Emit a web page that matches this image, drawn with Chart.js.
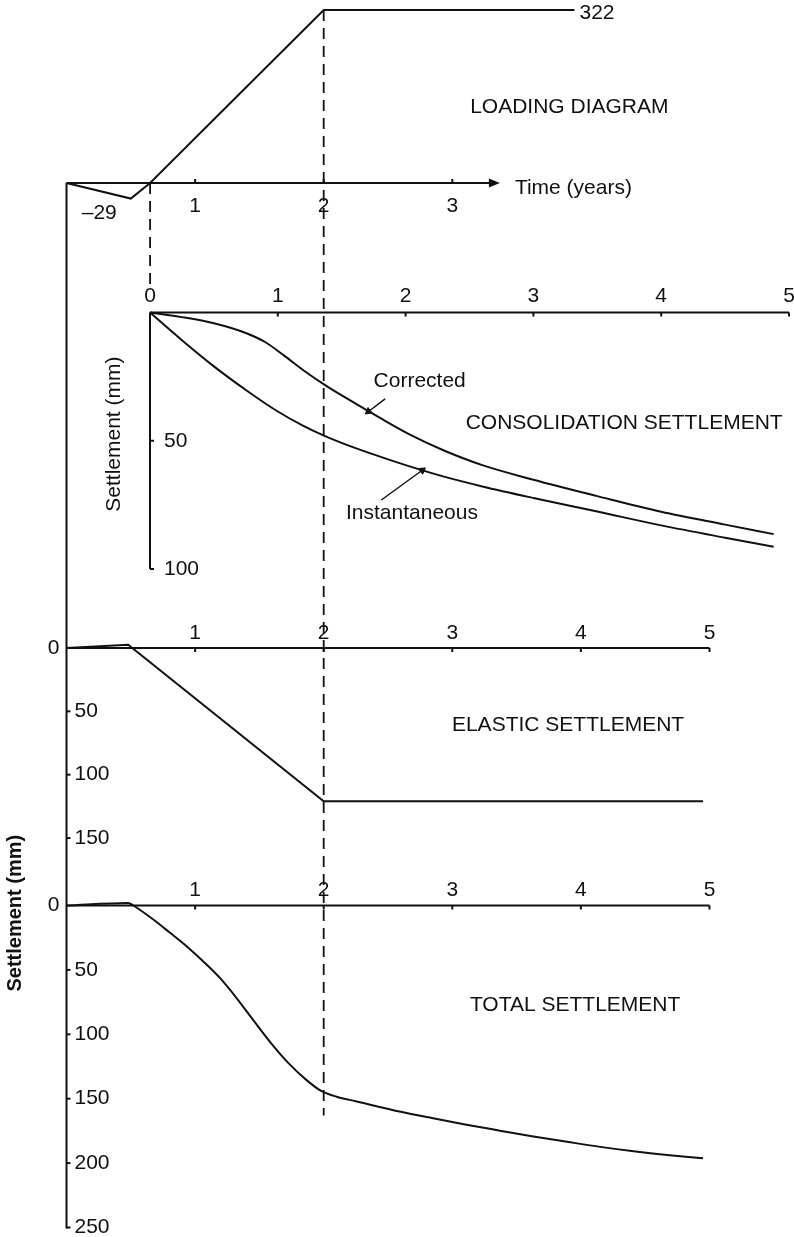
<!DOCTYPE html>
<html>
<head>
<meta charset="utf-8">
<title>Loading and settlement against time</title>
<script src="https://cdn.jsdelivr.net/npm/chart.js@4.4.1/dist/chart.umd.min.js"></script>
<style>
  html, body { margin: 0; padding: 0; background: #fff; }
  canvas { display: block; }
</style>
</head>
<body>
<canvas id="settlement-chart" width="794" height="1237"></canvas>
<script>
/* Loading diagram + consolidation / elastic / total settlement,
   four panels sharing one canvas, each on its own pair of scales. */

// loading history against time (years)
const loadTime = [0, 0.5, 0.65, 2, 3.95];
const loadValue = [0, -29, 0, 322, 322];

// consolidation settlement (mm), time counted from start of loading
const corrTime = [0, 0.25, 0.5, 0.75, 0.9, 1.05, 1.2, 1.37, 1.55, 1.8, 2.05, 2.3, 2.6, 3.0, 3.5, 4.0, 4.5, 4.88];
const corrSettlement = [0, 1.8, 4.2, 8, 11.5, 16.8, 22.5, 28.3, 33.8, 41.1, 48, 53.8, 59.5, 65.2, 71.6, 77.7, 82.7, 86.4];
const instTime = [0, 0.25, 0.5, 0.75, 1.0, 1.2, 1.37, 1.55, 1.8, 2.05, 2.3, 2.6, 3.0, 3.5, 4.0, 4.5, 4.88];
const instSettlement = [0, 10.8, 21, 30.2, 38.6, 44.2, 48.2, 51.8, 56.2, 60.3, 64, 67.8, 72.3, 77.6, 83, 87.8, 91.3];

// elastic settlement (mm)
const elasticTime = [0, 0.48, 2, 4.95];
const elasticSettlement = [0, -2.5, 121, 121];

// total settlement (mm)
const totalTime = [0, 0.48, 0.52, 0.68, 0.8, 0.94, 1.07, 1.2, 1.33, 1.46, 1.59, 1.73, 1.86, 1.98, 2.1, 2.25, 2.6, 2.85, 3.11, 3.37, 3.63, 3.89, 4.15, 4.41, 4.67, 4.95];
const totalSettlement = [0, -2, 0, 11.3, 20.8, 32.2, 44, 57, 72.8, 90, 106.8, 122.8, 135, 144, 148.5, 152, 160.2, 165.2, 170.2, 174.8, 179.3, 183.4, 187.4, 190.8, 193.7, 196.3];

// leader lines from the curve labels (time, settlement)
const corrLeaderTime = [1.84, 1.71];
const corrLeaderSettlement = [33.7, 38.6];
const instLeaderTime = [1.81, 2.13];
const instLeaderSettlement = [73.1, 61.5];

// axis ticks
const loadTicks = [1, 2, 3];
const timeTicks = [1, 2, 3, 4, 5];
const consTimeTicks = [0, 1, 2, 3, 4, 5];
const consTicks = [50, 100];
const elasticTicks = [0, 50, 100, 150];
const totalTicks = [0, 50, 100, 150, 200, 250];

const W = 794, H = 1237;
const INK = '#111';
const FONT = '"Liberation Sans", Arial, sans-serif';

// pixel origin and pixels per unit for each scale
const geom = {
  xT: { origin: 66.5, unit: 128.6 },
  xC: { origin: 150, unit: 127.8 },
  yL: { origin: 183, unit: 173 / 322, up: true },
  yC: { origin: 312.5, unit: 2.565 },
  yE: { origin: 648, unit: 1.267 },
  yT: { origin: 905.5, unit: 1.288 }
};

function scaleFor(id) {
  const g = geom[id];
  const isX = id[0] === 'x';
  const size = isX ? W : H;
  const base = { type: 'linear', axis: isX ? 'x' : 'y', display: false };
  if (isX) return { ...base, min: -g.origin / g.unit, max: (size - g.origin) / g.unit };
  if (g.up) return { ...base, min: -(size - g.origin) / g.unit, max: g.origin / g.unit };
  return { ...base, reverse: true, min: -g.origin / g.unit, max: (size - g.origin) / g.unit };
}

const pts = (xs, ys) => xs.map((x, i) => ({ x, y: ys[i] }));

function arrowRotation(c) {
  const ds = c.chart.data.datasets[c.datasetIndex];
  const xs = c.chart.scales[ds.xAxisID], ys = c.chart.scales[ds.yAxisID];
  const [a, b] = ds.data;
  const dx = xs.getPixelForValue(b.x) - xs.getPixelForValue(a.x);
  const dy = ys.getPixelForValue(b.y) - ys.getPixelForValue(a.y);
  return Math.atan2(dx, -dy) * 180 / Math.PI;
}

function curve(data, xAxisID, yAxisID, smooth) {
  return {
    data, xAxisID, yAxisID,
    borderColor: INK, borderWidth: 2, pointRadius: 0,
    tension: 0, cubicInterpolationMode: smooth ? 'monotone' : 'default',
    clip: false
  };
}

function leader(data) {
  return {
    data, xAxisID: 'xC', yAxisID: 'yC',
    borderColor: INK, borderWidth: 1.5, clip: false,
    pointRadius: [0, 4], pointStyle: 'triangle',
    pointBackgroundColor: INK, pointBorderColor: INK, pointBorderWidth: 1,
    pointRotation: arrowRotation
  };
}

function text(ctx, str, x, y, align, size, weight) {
  ctx.font = (weight || 'normal') + ' ' + (size || 21) + 'px ' + FONT;
  ctx.fillStyle = INK;
  ctx.textAlign = align || 'center';
  ctx.textBaseline = 'middle';
  ctx.fillText(str, x, y);
}

function line(ctx, x1, y1, x2, y2) {
  ctx.beginPath();
  ctx.moveTo(x1, y1);
  ctx.lineTo(x2, y2);
  ctx.stroke();
}

const diagramPlugin = {
  id: 'diagram',
  beforeDraw(chart) {
    const { ctx } = chart;
    ctx.save();
    ctx.fillStyle = '#fff';
    ctx.fillRect(0, 0, chart.width, chart.height);
    ctx.restore();
  },
  beforeDatasetsDraw(chart) {
    const { ctx } = chart;
    const s = chart.scales;
    const xT = v => s.xT.getPixelForValue(v), xC = v => s.xC.getPixelForValue(v);
    const yL = v => s.yL.getPixelForValue(v), yC = v => s.yC.getPixelForValue(v);
    const yE = v => s.yE.getPixelForValue(v), yT = v => s.yT.getPixelForValue(v);

    ctx.save();
    ctx.strokeStyle = INK;
    ctx.lineWidth = 2;
    ctx.lineCap = 'butt';

    // loading time axis with arrow
    const ly = yL(0), tip = xT(3.37);
    line(ctx, xT(0), ly, tip - 8, ly);
    ctx.beginPath();
    ctx.moveTo(tip, ly);
    ctx.lineTo(tip - 11, ly - 4.5);
    ctx.lineTo(tip - 11, ly + 4.5);
    ctx.closePath();
    ctx.fillStyle = INK;
    ctx.fill();
    loadTicks.forEach(t => {
      line(ctx, xT(t), ly - 4, xT(t), ly);
      text(ctx, String(t), xT(t), ly + 23);
    });
    text(ctx, 'Time (years)', tip + 15, ly + 5, 'left');

    // consolidation axes
    const cy = yC(0), cx = xC(0);
    line(ctx, cx, cy, xC(5), cy);
    line(ctx, cx, cy, cx, yC(100));
    consTimeTicks.forEach(t => {
      if (t > 0) line(ctx, xC(t), cy, xC(t), cy + 4);
      text(ctx, String(t), xC(t), cy - 16);
    });
    consTicks.forEach(v => {
      line(ctx, cx, yC(v), cx + 4, yC(v));
      text(ctx, String(v), cx + 14, yC(v), 'left');
    });

    // elastic and total time axes
    [[yE, elasticTicks], [yT, totalTicks]].forEach(([yf, ticks]) => {
      const y0 = yf(0);
      line(ctx, xT(0), y0, xT(5), y0);
      timeTicks.forEach(t => {
        line(ctx, xT(t), y0, xT(t), y0 + 4);
        text(ctx, String(t), xT(t), y0 - 15);
      });
      ticks.forEach(v => {
        if (v === 0) {
          text(ctx, '0', xT(0) - 7, y0, 'right');
          return;
        }
        line(ctx, xT(0), yf(v), xT(0) + 4, yf(v));
        text(ctx, String(v), xT(0) + 8, yf(v), 'left');
      });
    });

    // common settlement axis running down the left side
    line(ctx, xT(0), ly, xT(0), yT(250) + 1);

    // construction guides
    ctx.lineWidth = 1.8;
    ctx.setLineDash([11, 7]);
    line(ctx, xT(loadTime[2]), ly, xT(loadTime[2]), cy - 28);
    line(ctx, xT(loadTime[3]), yL(loadValue[3]), xT(loadTime[3]), yT(163));
    ctx.restore();
  },
  afterDatasetsDraw(chart) {
    const { ctx } = chart;
    const s = chart.scales;
    const xT = v => s.xT.getPixelForValue(v), xC = v => s.xC.getPixelForValue(v);
    const yL = v => s.yL.getPixelForValue(v), yC = v => s.yC.getPixelForValue(v);
    const yE = v => s.yE.getPixelForValue(v), yT = v => s.yT.getPixelForValue(v);

    ctx.save();
    const last = loadTime.length - 1;
    const peak = Math.max(...loadValue), low = Math.min(...loadValue);
    text(ctx, String(peak), xT(loadTime[last]) + 5, yL(peak) + 3, 'left');
    const lowAt = loadTime[loadValue.indexOf(low)];
    text(ctx, '\u2013' + Math.abs(low), xT(lowAt) - 14, yL(low) + 15, 'right');
    text(ctx, 'LOADING DIAGRAM', xT(3.91), yL(141));

    text(ctx, 'Corrected', xC(2.11), yC(26.7));
    text(ctx, 'Instantaneous', xC(2.05), yC(78.2));
    text(ctx, 'CONSOLIDATION SETTLEMENT', xC(3.71), yC(43.1));
    text(ctx, 'ELASTIC SETTLEMENT', xT(3.9), yE(60.8));
    text(ctx, 'TOTAL SETTLEMENT', xT(3.955), yT(77.3));

    // rotated axis titles
    ctx.translate(xC(0) - 36, yC(47.4));
    ctx.rotate(-Math.PI / 2);
    text(ctx, 'Settlement (mm)', 0, 0);
    ctx.setTransform(1, 0, 0, 1, 0, 0);
    ctx.translate(xT(0) - 51, yT(6));
    ctx.rotate(-Math.PI / 2);
    text(ctx, 'Settlement (mm)', 0, 0, 'center', 20, 'bold');
    ctx.restore();
  }
};

new Chart(document.getElementById('settlement-chart'), {
  type: 'line',
  data: {
    datasets: [
      curve(pts(loadTime, loadValue), 'xT', 'yL', false),
      curve(pts(corrTime, corrSettlement), 'xC', 'yC', true),
      curve(pts(instTime, instSettlement), 'xC', 'yC', true),
      curve(pts(elasticTime, elasticSettlement), 'xT', 'yE', false),
      curve(pts(totalTime, totalSettlement), 'xT', 'yT', true),
      leader(pts(corrLeaderTime, corrLeaderSettlement)),
      leader(pts(instLeaderTime, instLeaderSettlement))
    ]
  },
  options: {
    responsive: false,
    animation: false,
    events: [],
    layout: { padding: 0, autoPadding: false },
    plugins: { legend: { display: false }, tooltip: { enabled: false } },
    scales: {
      xT: scaleFor('xT'),
      xC: scaleFor('xC'),
      yL: scaleFor('yL'),
      yC: scaleFor('yC'),
      yE: scaleFor('yE'),
      yT: scaleFor('yT')
    }
  },
  plugins: [diagramPlugin]
});
</script>
</body>
</html>
